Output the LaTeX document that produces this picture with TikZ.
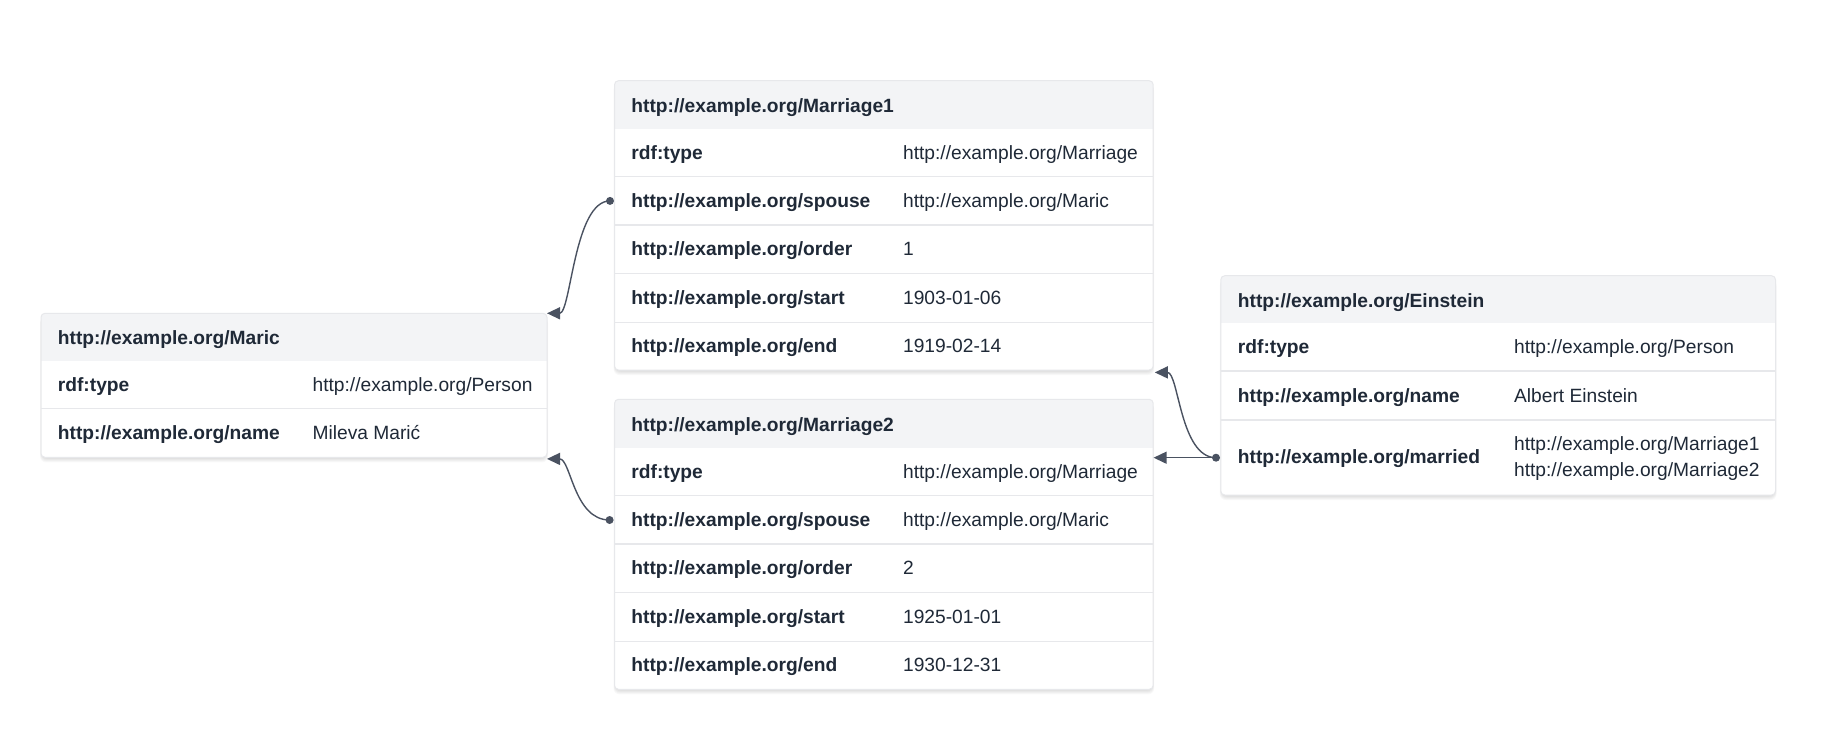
\documentclass[tikz,border=0pt]{standalone}
\usepackage{fontspec}
\setmainfont{Liberation Sans}
\usetikzlibrary{fit,arrows.meta}
\definecolor{ink}{HTML}{1F2937}
\definecolor{hdr}{HTML}{F3F4F6}
\definecolor{sep}{HTML}{E7E8EB}
\definecolor{edge}{HTML}{4A5261}
\newcommand\cardbox[6]{% name, x1, y1, x2, y2, header bottom
  \foreach \s in {1,2,3,4,5}{%
    \fill[black,opacity=0.028,rounded corners=3pt] (#2-\s*0.4+1,#3+\s*0.8) rectangle (#4+\s*0.4-1,#5+\s*1.0);}
  \node[card, fit={(#2,#3)(#4,#5)}] (#1) {};
  \begin{scope}
    \clip[rounded corners=2pt] (#2,#3) rectangle (#4,#5);
    \fill[hdr] (#2,#3) rectangle (#4,#6);
  \end{scope}
  \draw[sep, line width=0.5pt, rounded corners=2pt] (#2,#3) rectangle (#4,#5);
}
\begin{document}
\begin{tikzpicture}[x=0.5pt,y=-0.5pt,
  card/.style={inner sep=0pt, outer sep=0pt, fill=white, rounded corners=2pt},
  key/.style={anchor=base west, inner sep=0pt, font=\fontsize{9.6}{12}\selectfont\bfseries, text=ink},
  val/.style={anchor=base west, inner sep=0pt, font=\fontsize{9.6}{12}\selectfont, text=ink},
  rowline/.style={draw=sep, line width=0.6pt},
  link/.style={draw=edge, line width=0.7pt, -{Triangle[length=6.5pt,width=6pt]}},
  dot/.style={circle, fill=edge, inner sep=0pt, minimum size=4pt}
]
\useasboundingbox (0,0) rectangle (1848,750);
\fill[white] (0,0) rectangle (1848,750);

% ---------- Maric ----------
\cardbox{maric}{41}{313.3}{547}{457.3}{360.7}
\draw[rowline] (41,408.5) -- (547,408.5);
\node[key] (maricH) at (57.5,344) {http://example.org/Maric};
\node[key] (maricK1) at (57.5,391) {rdf:type};
\node[val] (maricV1) at (312.2,391) {http://example.org/Person};
\node[key] (maricK2) at (57.5,439.4) {http://example.org/name};
\node[val] (maricV2) at (312.2,439.4) {Mileva Marić};

% ---------- Marriage1 ----------
\cardbox{m1}{614.5}{80.7}{1153.2}{370}{129}
\foreach \y in {176.7,225,273.3,322.3} \draw[rowline] (614.5,\y) -- (1153.2,\y);
\node[key] (m1H) at (631,112.7) {http://example.org/Marriage1};
\node[key] (m1K1) at (631,159.5) {rdf:type};
\node[val] (m1V1) at (902.7,159.5) {http://example.org/Marriage};
\node[key] (m1K2) at (631,207.5) {http://example.org/spouse};
\node[val] (m1V2) at (902.7,207.5) {http://example.org/Maric};
\node[key] (m1K3) at (631,255.8) {http://example.org/order};
\node[val] (m1V3) at (902.7,255.8) {1};
\node[key] (m1K4) at (631,304.4) {http://example.org/start};
\node[val] (m1V4) at (902.7,304.4) {1903-01-06};
\node[key] (m1K5) at (631,352.8) {http://example.org/end};
\node[val] (m1V5) at (902.7,352.8) {1919-02-14};

% ---------- Marriage2 ----------
\cardbox{m2}{614.5}{399.3}{1153.2}{689.3}{447.7}
\foreach \y in {495.7,544,592.3,641.3} \draw[rowline] (614.5,\y) -- (1153.2,\y);
\node[key] (m2H) at (631,431.3) {http://example.org/Marriage2};
\node[key] (m2K1) at (631,478.3) {rdf:type};
\node[val] (m2V1) at (902.7,478.3) {http://example.org/Marriage};
\node[key] (m2K2) at (631,526.5) {http://example.org/spouse};
\node[val] (m2V2) at (902.7,526.5) {http://example.org/Maric};
\node[key] (m2K3) at (631,574.8) {http://example.org/order};
\node[val] (m2V3) at (902.7,574.8) {2};
\node[key] (m2K4) at (631,623.4) {http://example.org/start};
\node[val] (m2V4) at (902.7,623.4) {1925-01-01};
\node[key] (m2K5) at (631,671.9) {http://example.org/end};
\node[val] (m2V5) at (902.7,671.9) {1930-12-31};

% ---------- Einstein ----------
\cardbox{ein}{1220.8}{275.7}{1775.5}{495}{323.3}
\foreach \y in {371,420} \draw[rowline] (1220.8,\y) -- (1775.5,\y);
\node[key] (einH) at (1237.5,307) {http://example.org/Einstein};
\node[key] (einK1) at (1237.5,353.8) {rdf:type};
\node[val] (einV1) at (1513.7,353.8) {http://example.org/Person};
\node[key] (einK2) at (1237.5,402.1) {http://example.org/name};
\node[val] (einV2) at (1513.7,402.1) {Albert Einstein};
\node[key] (einK3) at (1237.5,463.6) {http://example.org/married};
\node[val] (einV3a) at (1513.7,450.7) {http://example.org/Marriage1};
\node[val] (einV3b) at (1513.7,476.7) {http://example.org/Marriage2};

% ---------- connectors ----------
\coordinate (m1sp) at (610,200.9);
\coordinate (m2sp) at (609.6,520);
\coordinate (einm) at (1216,457.7);
\coordinate (m2in) at (1153.6,457.7);

\draw[link] (m1sp) .. controls +(-36,0) and +(24,0) .. (maric.north east);
\draw[link] (m2sp) .. controls +(-36,0) and +(24,0) .. ([yshift=-0.8pt]maric.south east);
\draw[link] (einm) .. controls +(-36,0) and +(24,0) .. ([xshift=0.8pt,yshift=-1.2pt]m1.south east);
\draw[link] (einm) -- (m2in);

\node[dot] (d1) at (m1sp) {};
\node[dot] (d2) at (m2sp) {};
\node[dot] (d3) at (einm) {};
\end{tikzpicture}
\end{document}
